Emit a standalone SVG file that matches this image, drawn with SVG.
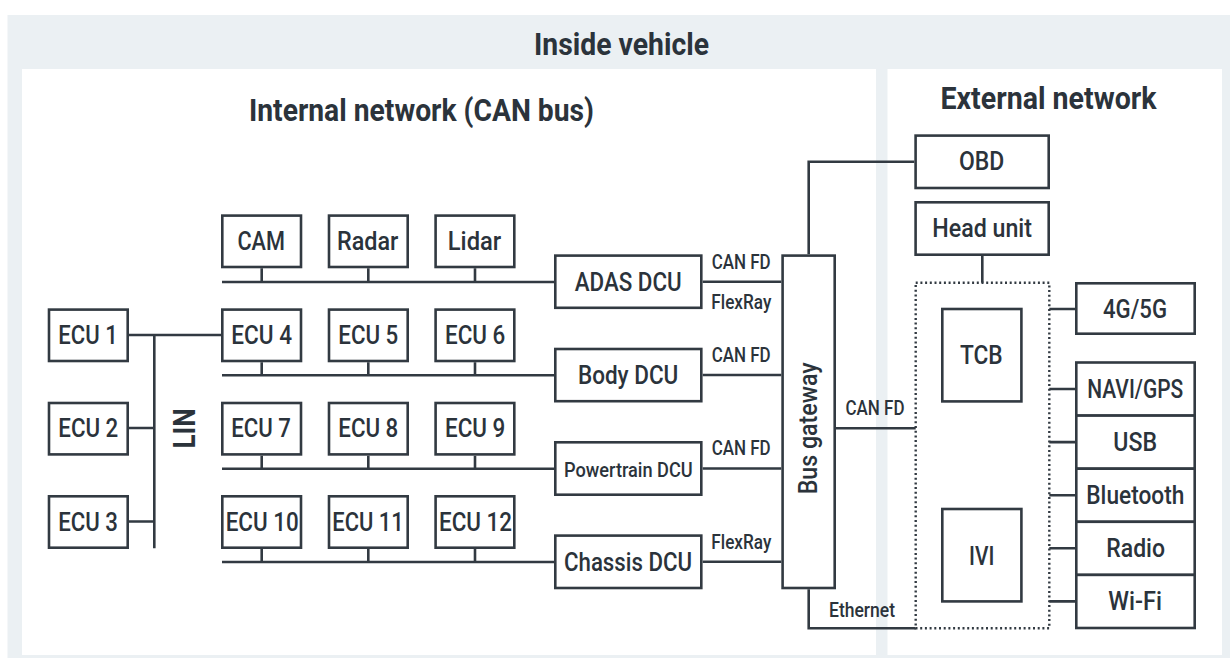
<svg xmlns="http://www.w3.org/2000/svg" width="1230" height="658" viewBox="0 0 1230 658">
<style>
text{font-family:Roboto,"Liberation Sans",Arial,sans-serif;fill:#2b333b;font-weight:500}
.t{font-size:26px}
.s{font-size:20.5px}
.h{font-size:31px;font-weight:bold}
.b{fill:#fff;stroke:#323a42;stroke-width:2.6}
.c{fill:none;stroke:#323a42;stroke-width:2.6}
.d{fill:none;stroke:#323a42;stroke-width:2.4;stroke-dasharray:2 2.7}
</style>
<g id="background">
<rect x="7.5" y="15" width="1230" height="660" fill="#ebf0f3"/>
<rect x="22" y="69" width="854" height="586" fill="#fff"/>
<rect x="887.5" y="69" width="334.5" height="586" fill="#fff"/>
<text class="h" x="534" y="55" textLength="175" lengthAdjust="spacingAndGlyphs">Inside vehicle</text>
<text class="h" x="249" y="121" textLength="345" lengthAdjust="spacingAndGlyphs">Internal network (CAN bus)</text>
<text class="h" x="940.5" y="109.3" textLength="216" lengthAdjust="spacingAndGlyphs">External network</text>
</g>
<g id="connectors">
<path class="c" d="M222 282H554M222 375.3H554M222 468.7H554M222 562H554"/>
<path class="c" d="M261.7 268.3V282M368.3 268.3V282M475 268.3V282M261.7 362.3V375.3M368.3 362.3V375.3M475 362.3V375.3M261.7 455.7V468.7M368.3 455.7V468.7M475 455.7V468.7M261.7 549V562M368.3 549V562M475 549V562"/>
<path class="c" d="M129 335H221M129 428H154.3M129 521.5H154.3M154.3 335V548.3"/>
<path class="c" d="M702.7 281.7H781.3M702.7 375H781.3M702.7 468.5H781.3M702.7 561.8H781.3"/>
<path class="c" d="M808.7 254.3V161.7H914.3M982.3 256V282.7M836 428.3H915.7M808.7 589.3V628.3H915.7"/>
<path class="c" d="M1049.3 309H1075M1049.3 389H1075M1049.3 442.1H1075M1049.3 495.2H1075M1049.3 548.3H1075M1049.3 601.4H1075"/>
<text class="h" transform="translate(195,448.5) rotate(-90)" textLength="40" lengthAdjust="spacingAndGlyphs">LIN</text>
<text class="s" x="711.7" y="269" textLength="59" lengthAdjust="spacingAndGlyphs">CAN FD</text>
<text class="s" x="711.3" y="309" textLength="60" lengthAdjust="spacingAndGlyphs">FlexRay</text>
<text class="s" x="711.7" y="361.7" textLength="59" lengthAdjust="spacingAndGlyphs">CAN FD</text>
<text class="s" x="711.7" y="455" textLength="59" lengthAdjust="spacingAndGlyphs">CAN FD</text>
<text class="s" x="711.3" y="549.3" textLength="60" lengthAdjust="spacingAndGlyphs">FlexRay</text>
<text class="s" x="845.5" y="415" textLength="59" lengthAdjust="spacingAndGlyphs">CAN FD</text>
<text class="s" x="829" y="616.7" textLength="66" lengthAdjust="spacingAndGlyphs">Ethernet</text>
</g>
<g id="cam"><rect class="b" x="222.3" y="215.6" width="78.7" height="51.4"/><text class="t" x="237.4" y="250.3" textLength="47.5" lengthAdjust="spacingAndGlyphs">CAM</text></g>
<g id="radar"><rect class="b" x="329" y="215.6" width="78.7" height="51.4"/><text class="t" x="337" y="250.3" textLength="61.4" lengthAdjust="spacingAndGlyphs">Radar</text></g>
<g id="lidar"><rect class="b" x="435.6" y="215.6" width="78.7" height="51.4"/><text class="t" x="447.8" y="250.3" textLength="53.4" lengthAdjust="spacingAndGlyphs">Lidar</text></g>
<g id="ecu1"><rect class="b" x="49" y="309.6" width="78.7" height="51.4"/><text class="t" x="58.3" y="344" textLength="59.4" lengthAdjust="spacingAndGlyphs">ECU 1</text></g>
<g id="ecu2"><rect class="b" x="49" y="403" width="78.7" height="51.4"/><text class="t" x="58.3" y="437.4" textLength="60" lengthAdjust="spacingAndGlyphs">ECU 2</text></g>
<g id="ecu3"><rect class="b" x="49" y="496.3" width="78.7" height="51.4"/><text class="t" x="58.3" y="530.8" textLength="59.7" lengthAdjust="spacingAndGlyphs">ECU 3</text></g>
<g id="ecu4"><rect class="b" x="222.3" y="309.6" width="78.7" height="51.4"/><text class="t" x="231.3" y="344" textLength="60.7" lengthAdjust="spacingAndGlyphs">ECU 4</text></g>
<g id="ecu5"><rect class="b" x="329" y="309.6" width="78.7" height="51.4"/><text class="t" x="338.3" y="344" textLength="60" lengthAdjust="spacingAndGlyphs">ECU 5</text></g>
<g id="ecu6"><rect class="b" x="435.6" y="309.6" width="78.7" height="51.4"/><text class="t" x="445" y="344" textLength="60.3" lengthAdjust="spacingAndGlyphs">ECU 6</text></g>
<g id="ecu7"><rect class="b" x="222.3" y="403" width="78.7" height="51.4"/><text class="t" x="231.3" y="437.4" textLength="59.7" lengthAdjust="spacingAndGlyphs">ECU 7</text></g>
<g id="ecu8"><rect class="b" x="329" y="403" width="78.7" height="51.4"/><text class="t" x="338.3" y="437.4" textLength="60" lengthAdjust="spacingAndGlyphs">ECU 8</text></g>
<g id="ecu9"><rect class="b" x="435.6" y="403" width="78.7" height="51.4"/><text class="t" x="445" y="437.4" textLength="60.3" lengthAdjust="spacingAndGlyphs">ECU 9</text></g>
<g id="ecu10"><rect class="b" x="222.3" y="496.3" width="78.7" height="51.4"/><text class="t" x="225.7" y="530.8" textLength="73" lengthAdjust="spacingAndGlyphs">ECU 10</text></g>
<g id="ecu11"><rect class="b" x="329" y="496.3" width="78.7" height="51.4"/><text class="t" x="332.3" y="530.8" textLength="71.4" lengthAdjust="spacingAndGlyphs">ECU 11</text></g>
<g id="ecu12"><rect class="b" x="435.6" y="496.3" width="78.7" height="51.4"/><text class="t" x="439" y="530.8" textLength="73" lengthAdjust="spacingAndGlyphs">ECU 12</text></g>
<g id="adas-dcu"><rect class="b" x="555.3" y="255.6" width="146" height="52.2"/><text class="t" x="574.7" y="290.7" textLength="107" lengthAdjust="spacingAndGlyphs">ADAS DCU</text></g>
<g id="body-dcu"><rect class="b" x="555.3" y="349" width="146" height="52.2"/><text class="t" x="578" y="384" textLength="100.3" lengthAdjust="spacingAndGlyphs">Body DCU</text></g>
<g id="powertrain-dcu"><rect class="b" x="555.3" y="442.3" width="146" height="52.4"/><text class="s" x="564" y="476.7" textLength="128.7" lengthAdjust="spacingAndGlyphs">Powertrain DCU</text></g>
<g id="chassis-dcu"><rect class="b" x="555.3" y="535.6" width="146" height="52.4"/><text class="t" x="564" y="570.7" textLength="128" lengthAdjust="spacingAndGlyphs">Chassis DCU</text></g>
<g id="bus-gateway"><rect class="b" x="782.6" y="255.6" width="52.1" height="332.4"/><text class="t" transform="translate(816.5,494.3) rotate(-90)" textLength="132" lengthAdjust="spacingAndGlyphs">Bus gateway</text></g>
<g id="obd"><rect class="b" x="915.6" y="135.6" width="133.1" height="52.4"/><text class="t" x="959" y="170.3" textLength="45.3" lengthAdjust="spacingAndGlyphs">OBD</text></g>
<g id="head-unit"><rect class="b" x="915.6" y="202.3" width="133.1" height="52.4"/><text class="t" x="932.3" y="236.9" textLength="99.7" lengthAdjust="spacingAndGlyphs">Head unit</text></g>
<g id="telematics"><rect class="d" x="915.7" y="282.7" width="133.6" height="345.6"/></g>
<g id="tcb"><rect class="b" x="942.3" y="309" width="79.1" height="92.4"/><text class="t" x="960" y="363.5" textLength="42.7" lengthAdjust="spacingAndGlyphs">TCB</text></g>
<g id="ivi"><rect class="b" x="942.3" y="509" width="79.1" height="92.4"/><text class="t" x="969" y="564.5" textLength="25.3" lengthAdjust="spacingAndGlyphs">IVI</text></g>
<g id="g45"><rect class="b" x="1076.3" y="283.3" width="118.4" height="50.4"/><text class="t" x="1103" y="317.7" textLength="64" lengthAdjust="spacingAndGlyphs">4G/5G</text></g>
<g id="navi-gps"><rect class="b" x="1076.3" y="362.5" width="118.4" height="53.1"/><text class="t" x="1087.3" y="397.5" textLength="96" lengthAdjust="spacingAndGlyphs">NAVI/GPS</text></g>
<g id="usb"><rect class="b" x="1076.3" y="415.6" width="118.4" height="53.1"/><text class="t" x="1113.3" y="451" textLength="43.7" lengthAdjust="spacingAndGlyphs">USB</text></g>
<g id="bluetooth"><rect class="b" x="1076.3" y="468.7" width="118.4" height="53.1"/><text class="t" x="1086.3" y="504" textLength="98" lengthAdjust="spacingAndGlyphs">Bluetooth</text></g>
<g id="radio"><rect class="b" x="1076.3" y="521.8" width="118.4" height="53.1"/><text class="t" x="1106.3" y="557" textLength="58.7" lengthAdjust="spacingAndGlyphs">Radio</text></g>
<g id="wifi"><rect class="b" x="1076.3" y="574.9" width="118.4" height="53.1"/><text class="t" x="1108.3" y="610.3" textLength="53.7" lengthAdjust="spacingAndGlyphs">Wi-Fi</text></g>
</svg>
